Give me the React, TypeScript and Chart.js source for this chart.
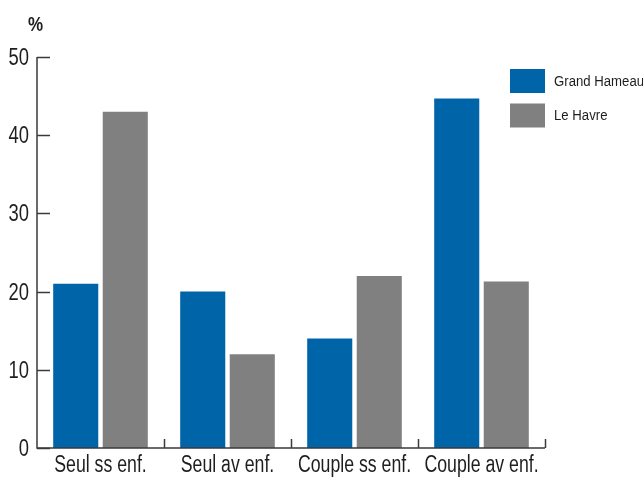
import React, { useEffect, useRef } from "react";
import { Chart, registerables } from "chart.js";

Chart.register(...registerables);

const categories = ["Seul ss enf.", "Seul av enf.", "Couple ss enf.", "Couple av enf."];
const grandHameau = [21, 20, 14, 44.7];
const leHavre = [43, 12, 22, 21.3];
const seriesNames = ["Grand Hameau", "Le Havre"];
const yTicks = [0, 10, 20, 30, 40, 50];

const BLUE = "#0064a8";
const GREY = "#808080";
const AXIS = "#3a3a3a";
const TEXT = "#1e1e1e";
const FONT = "'Liberation Sans', Arial, sans-serif";

function narrowText(
  ctx: CanvasRenderingContext2D,
  text: string,
  x: number,
  y: number,
  size: number,
  align: CanvasTextAlign,
  sx: number,
  bold = false
) {
  ctx.save();
  ctx.translate(x, y);
  ctx.scale(sx, 1);
  ctx.font = `${bold ? "bold " : ""}${size}px ${FONT}`;
  ctx.textAlign = align;
  ctx.textBaseline = "middle";
  ctx.fillStyle = TEXT;
  ctx.fillText(text, 0, 0);
  ctx.restore();
}

const decorPlugin = {
  id: "decor",
  afterDraw(chart: any) {
    const ctx = chart.ctx;
    const x = chart.scales.x;
    const y = chart.scales.y;
    const area = chart.chartArea;
    ctx.save();
    ctx.strokeStyle = AXIS;
    ctx.lineWidth = 1.5;
    // axes
    ctx.beginPath();
    ctx.moveTo(area.left, y.getPixelForValue(50));
    ctx.lineTo(area.left, y.getPixelForValue(0));
    ctx.lineTo(area.right, y.getPixelForValue(0));
    ctx.stroke();
    // y ticks inside + labels
    yTicks.forEach((v) => {
      const py = Math.round(y.getPixelForValue(v)) + 0.5;
      ctx.beginPath();
      ctx.moveTo(area.left, py);
      ctx.lineTo(area.left + 13, py);
      ctx.stroke();
      narrowText(ctx, String(v), area.left - 8, py + 1.5, 23, "right", 0.8);
    });
    // x ticks at category boundaries + labels
    const half = (x.getPixelForValue(1) - x.getPixelForValue(0)) / 2;
    const base = y.getPixelForValue(0);
    for (let i = 0; i < categories.length; i++) {
      const px = Math.round(x.getPixelForValue(i) + half) + 0.5;
      ctx.beginPath();
      ctx.moveTo(px, base);
      ctx.lineTo(px, base - 9);
      ctx.stroke();
      narrowText(ctx, categories[i], x.getPixelForValue(i), base + 18, 23, "center", 0.77);
    }
    // % label
    narrowText(ctx, "%", 35.5, 25, 20, "center", 0.85, true);
    // legend
    const cols = [BLUE, GREY];
    seriesNames.forEach((name, i) => {
      const top = 69 + i * 34.5;
      ctx.fillStyle = cols[i];
      ctx.fillRect(510, top, 35, 24);
      narrowText(ctx, name, 554, top + 12.5, 15.5, "left", 0.85);
    });
    ctx.restore();
  },
};

export default function App() {
  const ref = useRef<HTMLCanvasElement>(null);
  useEffect(() => {
    document.body.style.margin = "0";
    const chart = new Chart(ref.current as HTMLCanvasElement, {
      type: "bar",
      data: {
        labels: categories,
        datasets: [
          { label: seriesNames[0], data: grandHameau, backgroundColor: BLUE, borderWidth: 0 },
          { label: seriesNames[1], data: leHavre, backgroundColor: GREY, borderWidth: 0 },
        ],
      },
      options: {
        animation: false,
        responsive: false,
        maintainAspectRatio: false,
        layout: { padding: { top: 57, right: 98, left: 37, bottom: 30 } },
        plugins: { legend: { display: false }, tooltip: { enabled: false } },
        datasets: { bar: { categoryPercentage: 0.78, barPercentage: 0.91 } } as any,
        scales: {
          x: {
            offset: true,
            grid: { display: false, drawTicks: false },
            border: { display: false },
            ticks: { display: false },
          },
          y: {
            min: 0,
            max: 50,
            grid: { display: false, drawTicks: false },
            border: { display: false },
            ticks: { display: false, stepSize: 10 },
          },
        },
      },
      plugins: [decorPlugin],
    });
    return () => chart.destroy();
  }, []);
  return <canvas ref={ref} width={643} height={478} style={{ display: "block" }} />;
}
